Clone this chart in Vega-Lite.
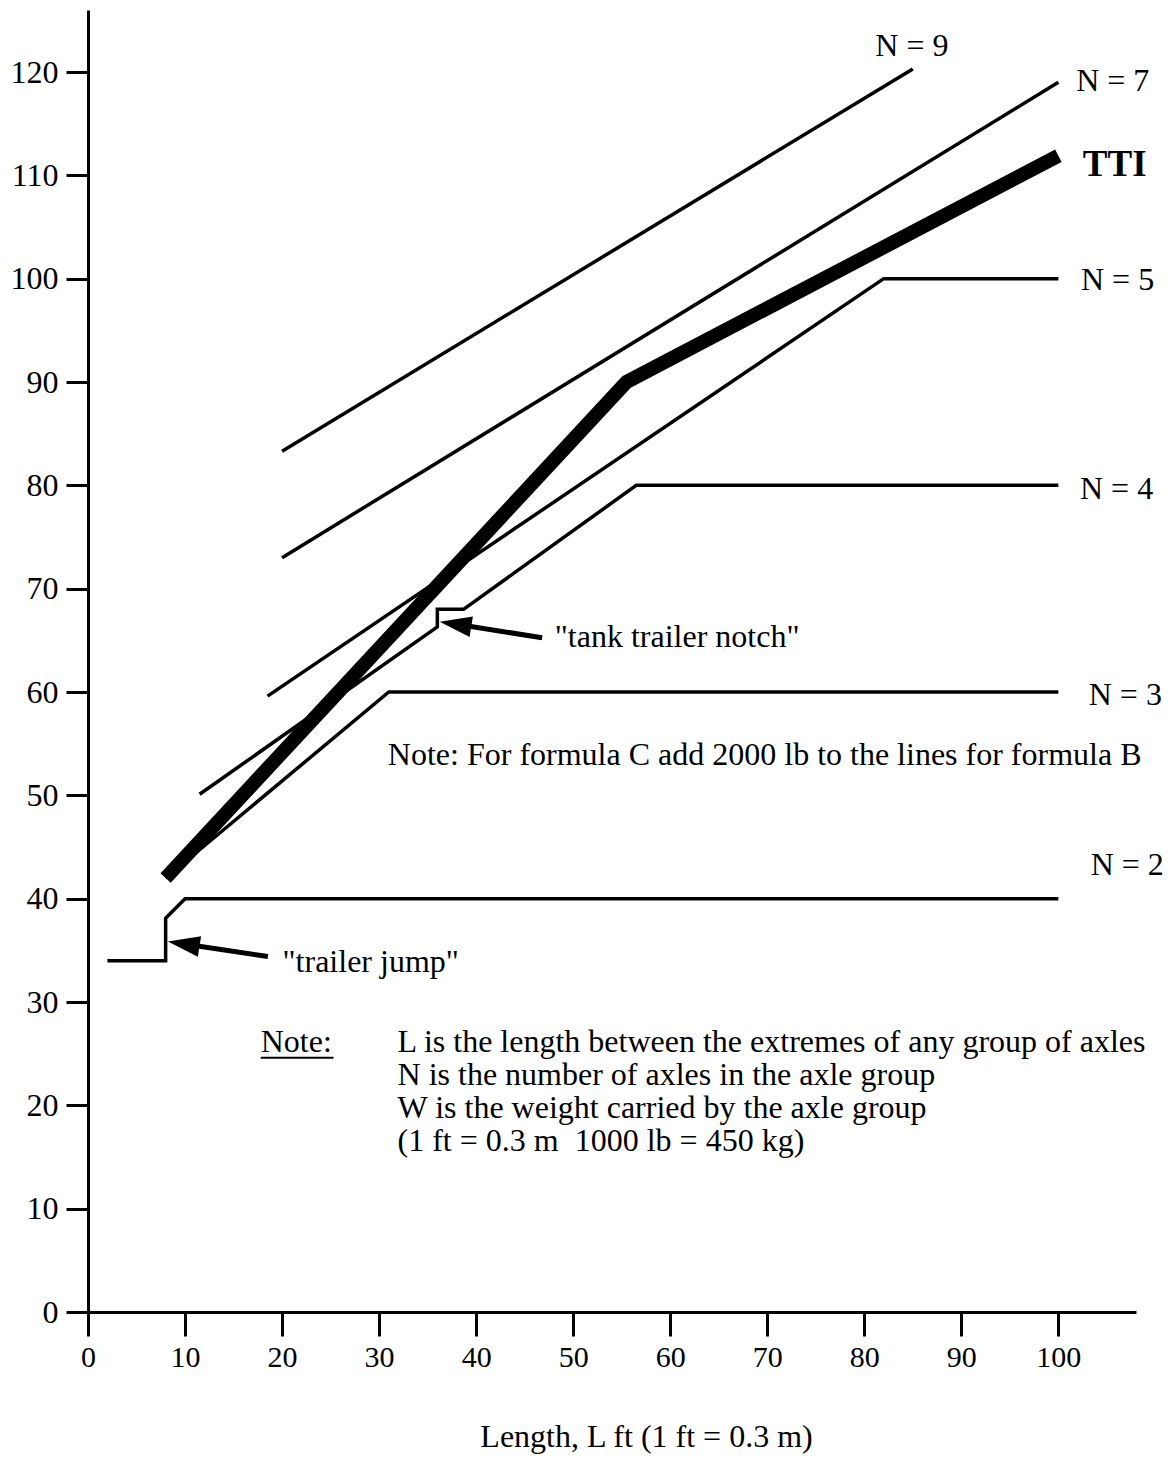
{
  "$schema": "https://vega.github.io/schema/vega-lite/v6.json",
  "width": 1048,
  "height": 1302,
  "autosize": {"type": "none"},
  "padding": {"left": 88, "top": 10, "right": 35, "bottom": 145},
  "background": "white",
  "config": {"font": "Liberation Serif", "view": {"stroke": null}},
  "datasets": {
    "lines": [
      {"s": "N9", "i": 0, "L": 20, "W": 83.3}, {"s": "N9", "i": 1, "L": 85, "W": 120.3},
      {"s": "N7", "i": 0, "L": 20, "W": 73.0}, {"s": "N7", "i": 1, "L": 100, "W": 119.0},
      {"s": "N5", "i": 0, "L": 18.5, "W": 59.6}, {"s": "N5", "i": 1, "L": 82, "W": 100}, {"s": "N5", "i": 2, "L": 100, "W": 100},
      {"s": "N4", "i": 0, "L": 11.5, "W": 50.1}, {"s": "N4", "i": 1, "L": 36, "W": 66.3}, {"s": "N4", "i": 2, "L": 36, "W": 68}, {"s": "N4", "i": 3, "L": 38.7, "W": 68}, {"s": "N4", "i": 4, "L": 56.5, "W": 80}, {"s": "N4", "i": 5, "L": 100, "W": 80},
      {"s": "N3", "i": 0, "L": 8, "W": 42}, {"s": "N3", "i": 1, "L": 31, "W": 60}, {"s": "N3", "i": 2, "L": 100, "W": 60},
      {"s": "N2", "i": 0, "L": 2, "W": 34}, {"s": "N2", "i": 1, "L": 8, "W": 34}, {"s": "N2", "i": 2, "L": 8, "W": 38.1}, {"s": "N2", "i": 3, "L": 10, "W": 40}, {"s": "N2", "i": 4, "L": 100, "W": 40}
    ],
    "tti": [
      {"i": 0, "L": 8, "W": 42}, {"i": 1, "L": 55.5, "W": 90}, {"i": 2, "L": 100, "W": 111.9}
    ],
    "shafts": [
      {"a": "notch", "L": 37.7, "W": 66.6, "L2": 46.8, "W2": 65.25},
      {"a": "jump", "L": 9.75, "W": 35.63, "L2": 18.54, "W2": 34.4}
    ],
    "heads": [
      {"a": "notch", "L": 36.24, "W": 66.8},
      {"a": "jump", "L": 8.23, "W": 35.85}
    ],
    "nlabels": [
      {"t": "N = 9", "L": 84.9, "W": 122.5},
      {"t": "N = 7", "L": 105.6, "W": 119.1},
      {"t": "N = 5", "L": 106.1, "W": 99.9},
      {"t": "N = 4", "L": 106.0, "W": 79.6},
      {"t": "N = 3", "L": 106.9, "W": 59.7},
      {"t": "N = 2", "L": 107.1, "W": 43.3}
    ],
    "notes": [
      {"t": "Note: For formula C add 2000 lb to the lines for formula B", "L": 30.9, "W": 52.9},
      {"t": "\"tank trailer notch\"", "L": 48.1, "W": 64.4},
      {"t": "\"trailer jump\"", "L": 20.05, "W": 32.9},
      {"t": "Note:", "L": 17.8, "W": 25.2},
      {"t": "L is the length between the extremes of any group of axles", "L": 31.9, "W": 25.2},
      {"t": "N is the number of axles in the axle group", "L": 31.9, "W": 22.0},
      {"t": "W is the weight carried by the axle group", "L": 31.9, "W": 18.8},
      {"t": "(1 ft = 0.3 m\u00a0 1000 lb = 450 kg)", "L": 31.9, "W": 15.6}
    ],
    "underline": [
      {"L": 17.8, "W": 24.6, "L2": 25.3, "W2": 24.6}
    ]
  },
  "encoding": {
    "x": {
      "field": "L", "type": "quantitative",
      "scale": {"domain": [0, 108], "nice": false, "zero": false},
      "axis": {
        "values": [0, 10, 20, 30, 40, 50, 60, 70, 80, 90, 100],
        "title": "Length, L ft (1 ft = 0.3 m)",
        "grid": false, "domainColor": "black", "domainWidth": 3,
        "tickColor": "black", "tickWidth": 3, "tickSize": 24,
        "labelFontSize": 30, "labelColor": "black", "labelPadding": 6,
        "labelFlush": false, "labelOverlap": false, "labelBound": false,
        "labelFont": "Liberation Serif",
        "titleFont": "Liberation Serif", "titleFontSize": 32, "titleFontWeight": "normal",
        "titleColor": "black", "titleX": 558, "titleY": 134, "titleBaseline": "alphabetic", "titleAlign": "center"
      }
    },
    "y": {
      "field": "W", "type": "quantitative",
      "scale": {"domain": [0, 126], "nice": false},
      "axis": {
        "values": [0, 10, 20, 30, 40, 50, 60, 70, 80, 90, 100, 110, 120],
        "title": null, "grid": false, "domainColor": "black", "domainWidth": 3,
        "tickColor": "black", "tickWidth": 3, "tickSize": 22,
        "labelFontSize": 32, "labelColor": "black", "labelPadding": 8,
        "labelFont": "Liberation Serif", "labelOverlap": false, "labelBound": false
      }
    }
  },
  "layer": [
    {
      "data": {"name": "lines"},
      "mark": {"type": "line", "color": "black", "strokeWidth": 3.5, "strokeJoin": "miter"},
      "encoding": {"detail": {"field": "s"}, "order": {"field": "i", "type": "quantitative"}}
    },
    {
      "data": {"name": "tti"},
      "mark": {"type": "line", "color": "black", "strokeWidth": 14, "strokeJoin": "miter"},
      "encoding": {"order": {"field": "i", "type": "quantitative"}}
    },
    {
      "data": {"name": "shafts"},
      "mark": {"type": "rule", "color": "black", "strokeWidth": 5},
      "encoding": {"x2": {"field": "L2"}, "y2": {"field": "W2"}}
    },
    {
      "data": {"name": "heads"},
      "mark": {"type": "point", "shape": "M0,0L2,-0.65L2,0.65Z", "size": 1024, "angle": 9, "filled": true, "color": "black", "opacity": 1, "strokeWidth": 0}
    },
    {
      "data": {"name": "nlabels"},
      "mark": {"type": "text", "fontSize": 32, "color": "black", "align": "center", "baseline": "middle", "font": "Liberation Serif"},
      "encoding": {"text": {"field": "t"}}
    },
    {
      "data": {"values": [{"t": "TTI", "L": 105.8, "W": 111.0}]},
      "mark": {"type": "text", "fontSize": 37, "fontWeight": "bold", "color": "black", "align": "center", "baseline": "middle", "font": "Liberation Serif"},
      "encoding": {"text": {"field": "t"}}
    },
    {
      "data": {"name": "notes"},
      "mark": {"type": "text", "fontSize": 32, "color": "black", "align": "left", "baseline": "alphabetic", "font": "Liberation Serif"},
      "encoding": {"text": {"field": "t"}}
    },
    {
      "data": {"name": "underline"},
      "mark": {"type": "rule", "color": "black", "strokeWidth": 2},
      "encoding": {"x2": {"field": "L2"}, "y2": {"field": "W2"}}
    }
  ]
}
